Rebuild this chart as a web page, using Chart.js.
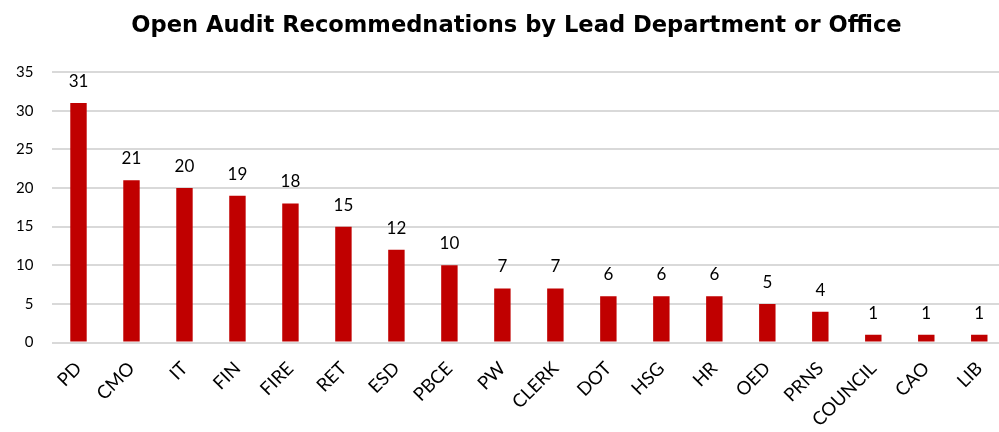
<!DOCTYPE html>
<html>
<head>
<meta charset="utf-8">
<script src="https://cdn.jsdelivr.net/npm/chart.js@4"></script>
<style>
  html, body { margin: 0; padding: 0; background: #fff; overflow: hidden; }
  #wrap { position: relative; width: 1010px; height: 432px; }
</style>
</head>
<body>
<div id="wrap"><canvas id="bars"></canvas></div>
<script>
const departments = ["PD", "CMO", "IT", "FIN", "FIRE", "RET", "ESD", "PBCE", "PW", "CLERK",
  "DOT", "HSG", "HR", "OED", "PRNS", "COUNCIL", "CAO", "LIB"];
const openRecs = [31, 21, 20, 19, 18, 15, 12, 10, 7, 7, 6, 6, 6, 5, 4, 1, 1, 1];
const yTicks = [0, 5, 10, 15, 20, 25, 30, 35];

const fontFam = "Lato, 'Open Sans', sans-serif";

// draws the count above each bar
const barLabels = {
  id: "barLabels",
  afterDatasetsDraw(chart) {
    const ctx = chart.ctx;
    const meta = chart.getDatasetMeta(0);
    ctx.save();
    ctx.font = "17px " + fontFam;
    ctx.fillStyle = "#000";
    ctx.textAlign = "center";
    ctx.textBaseline = "alphabetic";
    meta.data.forEach((bar, i) => {
      ctx.fillText(openRecs[i], bar.x, bar.y - 16);
    });
    ctx.restore();
  }
};

new Chart(document.getElementById("bars"), {
  type: "bar",
  data: {
    labels: departments,
    datasets: [{
      data: openRecs,
      backgroundColor: "#c00000",
      barPercentage: 0.31,
      categoryPercentage: 1.0
    }]
  },
  options: {
    responsive: true,
    maintainAspectRatio: false,
    animation: false,
    layout: { autoPadding: false, padding: { left: 24, right: 1, top: 4, bottom: -14 } },
    plugins: {
      legend: { display: false },
      tooltip: { enabled: false },
      title: {
        display: true,
        text: "Open Audit Recommednations by Lead Department or Office",
        color: "#000",
        font: { family: "'DejaVu Sans', sans-serif", size: 22.6, weight: "bold" },
        padding: { top: 9, bottom: 32 }
      }
    },
    scales: {
      y: {
        min: 0,
        max: 35,
        afterBuildTicks(axis) { axis.ticks = yTicks.map(v => ({ value: v })); },
        afterFit(axis) { axis.width = 28; },
        grid: { color: "#d9d9d9", lineWidth: 2, drawTicks: false },
        border: { display: false },
        // mirrored so the labels are not clipped to the narrow axis box
        ticks: {
          color: "#000",
          mirror: true,
          crossAlign: "far",
          padding: -36,
          font: { family: fontFam, size: 15 }
        }
      },
      x: {
        grid: { display: false, drawTicks: false },
        border: { display: false },
        ticks: {
          color: "#000",
          minRotation: 45,
          maxRotation: 45,
          padding: 15,
          font: { family: fontFam, size: 18.5 }
        }
      }
    }
  },
  plugins: [barLabels]
});
</script>
</body>
</html>
